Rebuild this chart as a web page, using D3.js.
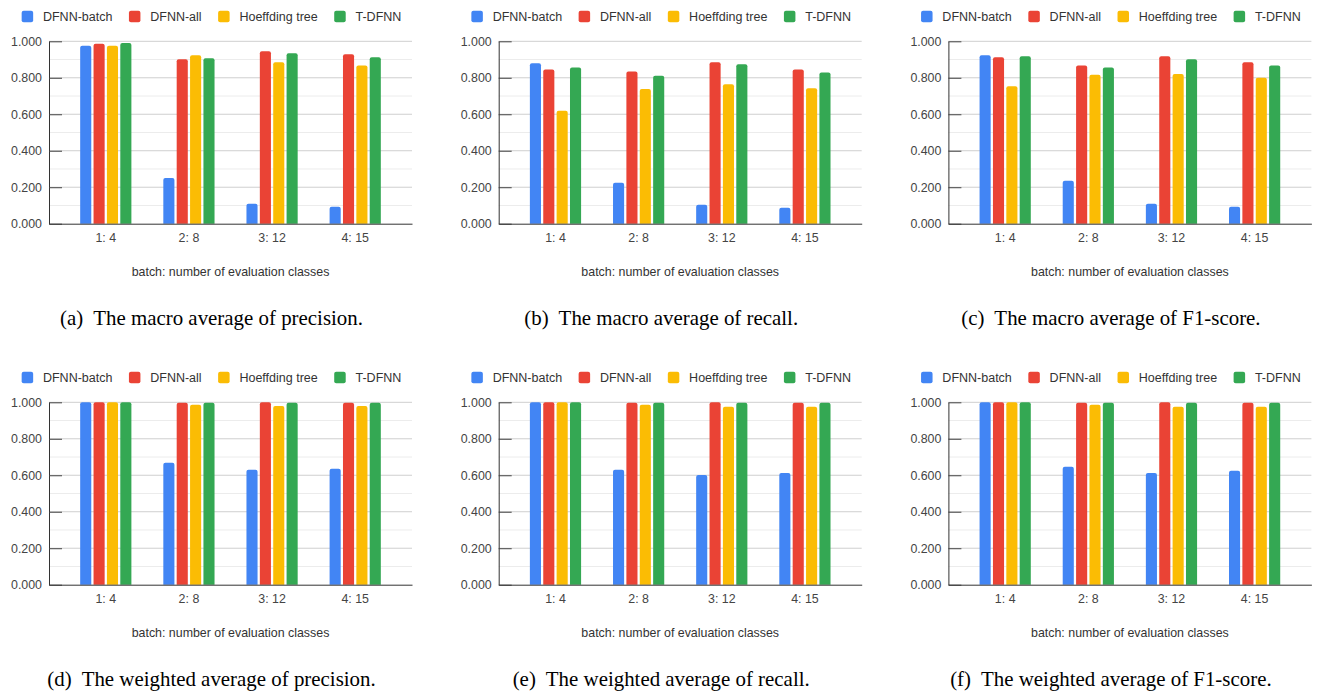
<!DOCTYPE html>
<html>
<head>
<meta charset="utf-8">
<script src="https://cdn.jsdelivr.net/npm/d3@7"></script>
<style>
  body { margin: 0; background: #fff; }
  svg { display: block; }
</style>
</head>
<body>
<script>
// series and categories
const seriesNames = ['DFNN-batch', 'DFNN-all', 'Hoeffding tree', 'T-DFNN'];
const categories = ['1: 4', '2: 8', '3: 12', '4: 15'];
const colors = ['#4285F4', '#EA4335', '#FBBC04', '#34A853'];
const yTicks = [0, 0.2, 0.4, 0.6, 0.8, 1.0];
const xTitle = 'batch: number of evaluation classes';

// values: one row per series, one value per category
const macroPrecision = [
  [0.975, 0.250, 0.109, 0.093],
  [0.986, 0.902, 0.945, 0.929],
  [0.975, 0.923, 0.885, 0.867],
  [0.990, 0.907, 0.934, 0.913]
];
const macroRecall = [
  [0.880, 0.224, 0.104, 0.087],
  [0.845, 0.834, 0.885, 0.845],
  [0.619, 0.738, 0.765, 0.743],
  [0.856, 0.811, 0.874, 0.829]
];
const macroF1 = [
  [0.923, 0.235, 0.109, 0.093],
  [0.913, 0.867, 0.918, 0.885],
  [0.754, 0.816, 0.821, 0.800],
  [0.918, 0.856, 0.902, 0.867]
];
const weightedPrecision = [
  [1.000, 0.668, 0.630, 0.636],
  [1.000, 0.997, 1.000, 0.997],
  [1.000, 0.987, 0.980, 0.980],
  [1.000, 0.997, 0.997, 0.997]
];
const weightedRecall = [
  [1.000, 0.630, 0.601, 0.612],
  [1.000, 0.997, 1.000, 0.997],
  [1.000, 0.987, 0.975, 0.975],
  [1.000, 0.997, 0.997, 0.997]
];
const weightedF1 = [
  [1.000, 0.647, 0.612, 0.625],
  [1.000, 0.997, 1.000, 0.997],
  [1.000, 0.987, 0.975, 0.975],
  [1.000, 0.997, 0.997, 0.997]
];
const captionTags = ['(a)', '(b)', '(c)', '(d)', '(e)', '(f)'];
const captionTexts = [
  'The macro average of precision.',
  'The macro average of recall.',
  'The macro average of F1-score.',
  'The weighted average of precision.',
  'The weighted average of recall.',
  'The weighted average of F1-score.'
];
const panels = [macroPrecision, macroRecall, macroF1, weightedPrecision, weightedRecall, weightedF1];

const W = 1319, H = 692;
const colStep = 449.7, rowStep = 361;
const plotL = 49, plotW = 363, plotT = 41.3, plotB = 223.7;
const legendCx = 211.5;

const svg = d3.select('body').append('svg')
  .attr('width', W)
  .attr('height', H)
  .style('font-family', 'Arial, "Liberation Sans", sans-serif');

svg.append('rect').attr('width', W).attr('height', H).attr('fill', '#fff');

// scales shared by every panel
const y = d3.scaleLinear().domain([0, 1]).range([plotB, plotT]);
const x0 = d3.scaleBand().domain(categories).range([0, plotW])
  .paddingInner(0.384).paddingOuter(0.375);
const x1 = d3.scaleBand().domain(seriesNames).range([0, x0.bandwidth()])
  .paddingInner(0.17);

// bar with rounded top corners
function barPath(x, yTop, w, h, r) {
  r = Math.min(r, h, w / 2);
  return `M${x},${yTop + h}V${yTop + r}Q${x},${yTop} ${x + r},${yTop}` +
    `H${x + w - r}Q${x + w},${yTop} ${x + w},${yTop + r}V${yTop + h}Z`;
}

panels.forEach(function(vals, p) {
  let col = p % 3, row = Math.floor(p / 3);
  let g = svg.append('g').attr('transform', `translate(${col * colStep},${row * rowStep})`);

  // legend
  let leg = g.append('g');
  let items = leg.selectAll('g.item')
    .data(seriesNames)
    .enter()
    .append('g')
    .attr('class', 'item');
  items.append('rect')
    .attr('width', 11.5).attr('height', 11.5)
    .attr('y', 10.8).attr('rx', 2)
    .attr('fill', (d, i) => colors[i]);
  items.append('text')
    .attr('x', 21.3).attr('y', 20.9)
    .attr('font-size', '12.5px')
    .attr('fill', '#333')
    .text(d => d);
  let cx = 0;
  items.each(function() {
    let t = d3.select(this).select('text').node().getComputedTextLength();
    d3.select(this).attr('transform', `translate(${cx},0)`);
    cx += 21.3 + t + 16.5;
  });
  let legW = cx - 16.5;
  leg.attr('transform', `translate(${legendCx - legW / 2},0)`);

  let plot = g.append('g').attr('transform', `translate(${plotL},0)`);

  // gridlines
  let minor = d3.range(1, 10, 2).map(d => d / 10);
  plot.selectAll('line.minor')
    .data(minor)
    .enter()
    .append('line')
    .attr('x1', 0).attr('x2', plotW)
    .attr('y1', d => y(d)).attr('y2', d => y(d))
    .attr('stroke', '#ececec');
  plot.selectAll('line.major')
    .data(yTicks.slice(1))
    .enter()
    .append('line')
    .attr('x1', 0).attr('x2', plotW)
    .attr('y1', d => y(d)).attr('y2', d => y(d))
    .attr('stroke', '#cfcfcf');

  // bars
  let groups = plot.selectAll('g.grp')
    .data(categories)
    .enter()
    .append('g')
    .attr('transform', d => `translate(${x0(d)},0)`);
  groups.selectAll('path')
    .data((c, ci) => seriesNames.map((s, si) => ({ s: s, si: si, v: vals[si][ci] })))
    .enter()
    .append('path')
    .attr('d', d => barPath(x1(d.s), y(d.v), x1.bandwidth(), plotB - y(d.v), 2))
    .attr('fill', d => colors[d.si]);

  // y axis
  let ay = plot.append('g')
    .call(d3.axisLeft(y).tickValues(yTicks).tickFormat(d3.format('.3f'))
      .tickSizeInner(-13).tickSizeOuter(0).tickPadding(7));
  ay.select('.domain').attr('stroke', '#333');
  ay.selectAll('.tick line').attr('stroke', '#444');
  ay.selectAll('.tick text').attr('fill', '#444').attr('font-size', '12.4px')
    .attr('font-family', 'Arial, "Liberation Sans", sans-serif');

  // x axis
  let ax = plot.append('g').attr('transform', `translate(0,${plotB})`)
    .call(d3.axisBottom(x0).tickSize(0).tickPadding(10));
  ax.select('.domain').attr('stroke', '#333');
  ax.selectAll('.tick text').attr('fill', '#444').attr('font-size', '12.4px')
    .attr('font-family', 'Arial, "Liberation Sans", sans-serif');

  plot.append('text')
    .attr('x', plotW / 2).attr('y', 276)
    .attr('text-anchor', 'middle')
    .attr('font-size', '12.4px')
    .attr('fill', '#333')
    .text(xTitle);

  // caption
  let cap = g.append('text')
    .attr('x', legendCx).attr('y', 325)
    .attr('text-anchor', 'middle')
    .attr('font-family', '"Liberation Serif", "Times New Roman", serif')
    .attr('font-size', '20.9px')
    .attr('fill', '#000');
  cap.append('tspan').text(captionTags[p]);
  cap.append('tspan').attr('dx', 10).text(captionTexts[p]);
});
</script>
</body>
</html>
